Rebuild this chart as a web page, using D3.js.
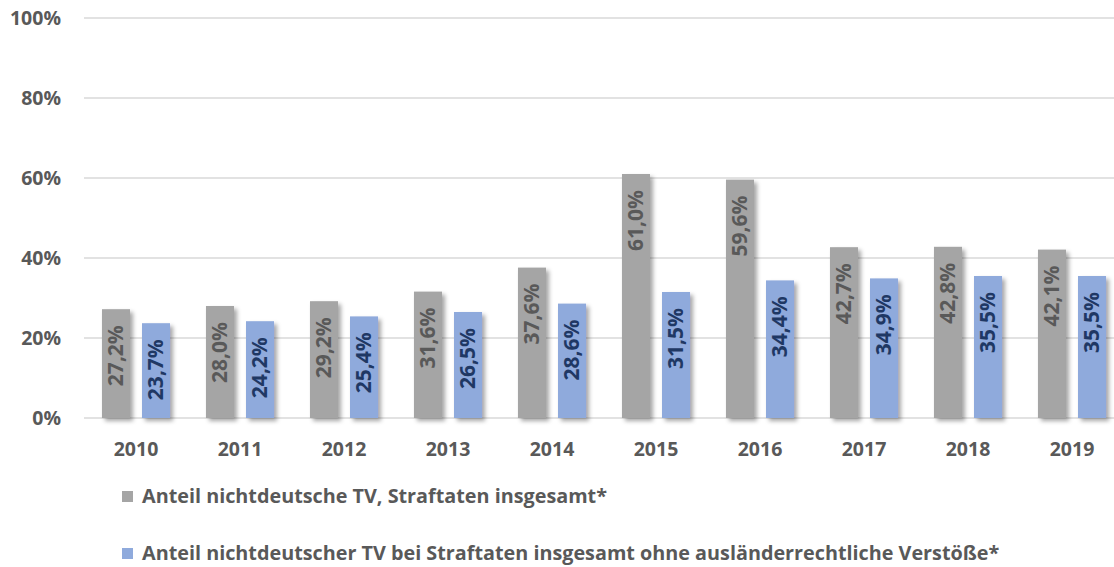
<!DOCTYPE html>
<html>
<head>
<meta charset="utf-8">
<script src="https://cdn.jsdelivr.net/npm/d3@7"></script>
<style>
  body { margin: 0; background: #fff; }
  text { font-family: "Open Sans", sans-serif; font-weight: bold; }
</style>
</head>
<body>
<script>
var years = ["2010","2011","2012","2013","2014","2015","2016","2017","2018","2019"];
var seriesNames = [
  "Anteil nichtdeutsche TV, Straftaten insgesamt*",
  "Anteil nichtdeutscher TV bei Straftaten insgesamt ohne ausländerrechtliche Verstöße*"
];
var total = [27.2, 28.0, 29.2, 31.6, 37.6, 61.0, 59.6, 42.7, 42.8, 42.1];
var withoutAlien = [23.7, 24.2, 25.4, 26.5, 28.6, 31.5, 34.4, 34.9, 35.5, 35.5];
var yTicks = [0, 20, 40, 60, 80, 100];

var barColors = ["#a5a5a5", "#8faadc"];
var labelColors = ["#595959", "#1f3864"];

var width = 1114,
    height = 567;

var svg = d3.select("body").append("svg")
    .attr("width", width)
    .attr("height", height);

// shadow like the office chart
var defs = svg.append("defs");
var f = defs.append("filter").attr("id", "shadow")
    .attr("x", "-20%").attr("y", "-10%").attr("width", "160%").attr("height", "130%");
f.append("feDropShadow")
    .attr("dx", 3).attr("dy", 3).attr("stdDeviation", 2)
    .attr("flood-color", "#000").attr("flood-opacity", 0.35);

var x0 = d3.scaleBand()
    .domain(years)
    .range([84, 1124])
    .paddingInner(0.346)
    .paddingOuter(0.173);

var x1 = d3.scaleBand()
    .domain([0, 1])
    .range([0, x0.bandwidth()])
    .paddingInner(0.3);

var y = d3.scaleLinear()
    .domain([0, 100])
    .range([418, 18]);

// gridlines
svg.append("g").selectAll("line")
  .data(yTicks)
  .enter().append("line")
  .attr("x1", 84).attr("x2", width)
  .attr("y1", function(d){ return y(d) })
  .attr("y2", function(d){ return y(d) })
  .attr("stroke", "#d9d9d9")
  .attr("stroke-width", 1.5);

// y labels
var yAxis = d3.axisLeft(y)
  .tickValues(yTicks)
  .tickFormat(function(d){ return d + "%" })
  .tickSize(0)
  .tickPadding(0);

var ya = svg.append("g")
  .attr("transform", "translate(61,0)")
  .call(yAxis);
ya.select(".domain").remove();
ya.selectAll("text")
  .attr("fill", "#595959")
  .style("font-size", "19.5px")
  .attr("dy", "0.35em");

// x labels
var xAxis = d3.axisBottom(x0).tickSize(0).tickPadding(0);
var xa = svg.append("g")
  .attr("transform", "translate(0,449)")
  .call(xAxis);
xa.select(".domain").remove();
xa.selectAll("text")
  .attr("fill", "#595959")
  .attr("dy", "0.35em")
  .style("font-size", "19.5px");

var rows = years.map(function(yr, i){
  return { year: yr, values: [total[i], withoutAlien[i]] };
});

var groups = svg.append("g").selectAll("g")
  .data(rows)
  .enter().append("g")
  .attr("transform", function(d){ return "translate(" + x0(d.year) + ",0)" });

groups.selectAll("rect")
  .data(function(d){ return d.values.map(function(v, k){ return { k: k, v: v } }) })
  .enter().append("rect")
  .attr("x", function(d){ return x1(d.k) })
  .attr("width", x1.bandwidth())
  .attr("y", function(d){ return y(d.v) })
  .attr("height", function(d){ return y(0) - y(d.v) })
  .attr("fill", function(d){ return barColors[d.k] })
  .attr("filter", "url(#shadow)");

// value labels, rotated, at the inner end
groups.selectAll("text.val")
  .data(function(d){ return d.values.map(function(v, k){ return { k: k, v: v } }) })
  .enter().append("text")
  .attr("class", "val")
  .attr("transform", function(d){
    var cx = x1(d.k) + x1.bandwidth() / 2 - 1;
    return "translate(" + cx + "," + (y(d.v) + 16) + ") rotate(-90)";
  })
  .attr("text-anchor", "end")
  .attr("dy", "0.36em")
  .attr("fill", function(d){ return labelColors[d.k] })
  .style("font-size", "21px")
  .text(function(d){ return d.v.toFixed(1).replace(".", ",") + "%" });

// legend
var legend = svg.append("g").selectAll("g")
  .data(seriesNames)
  .enter().append("g")
  .attr("transform", function(d, i){ return "translate(122," + (496 + i * 57) + ")" });

legend.append("rect")
  .attr("x", 0).attr("y", -5)
  .attr("width", 11).attr("height", 11)
  .attr("fill", function(d, i){ return barColors[i] });

legend.append("text")
  .attr("x", 20)
  .attr("dy", "0.35em")
  .attr("fill", "#595959")
  .style("font-size", "19.8px")
  .text(function(d){ return d });
</script>
</body>
</html>
